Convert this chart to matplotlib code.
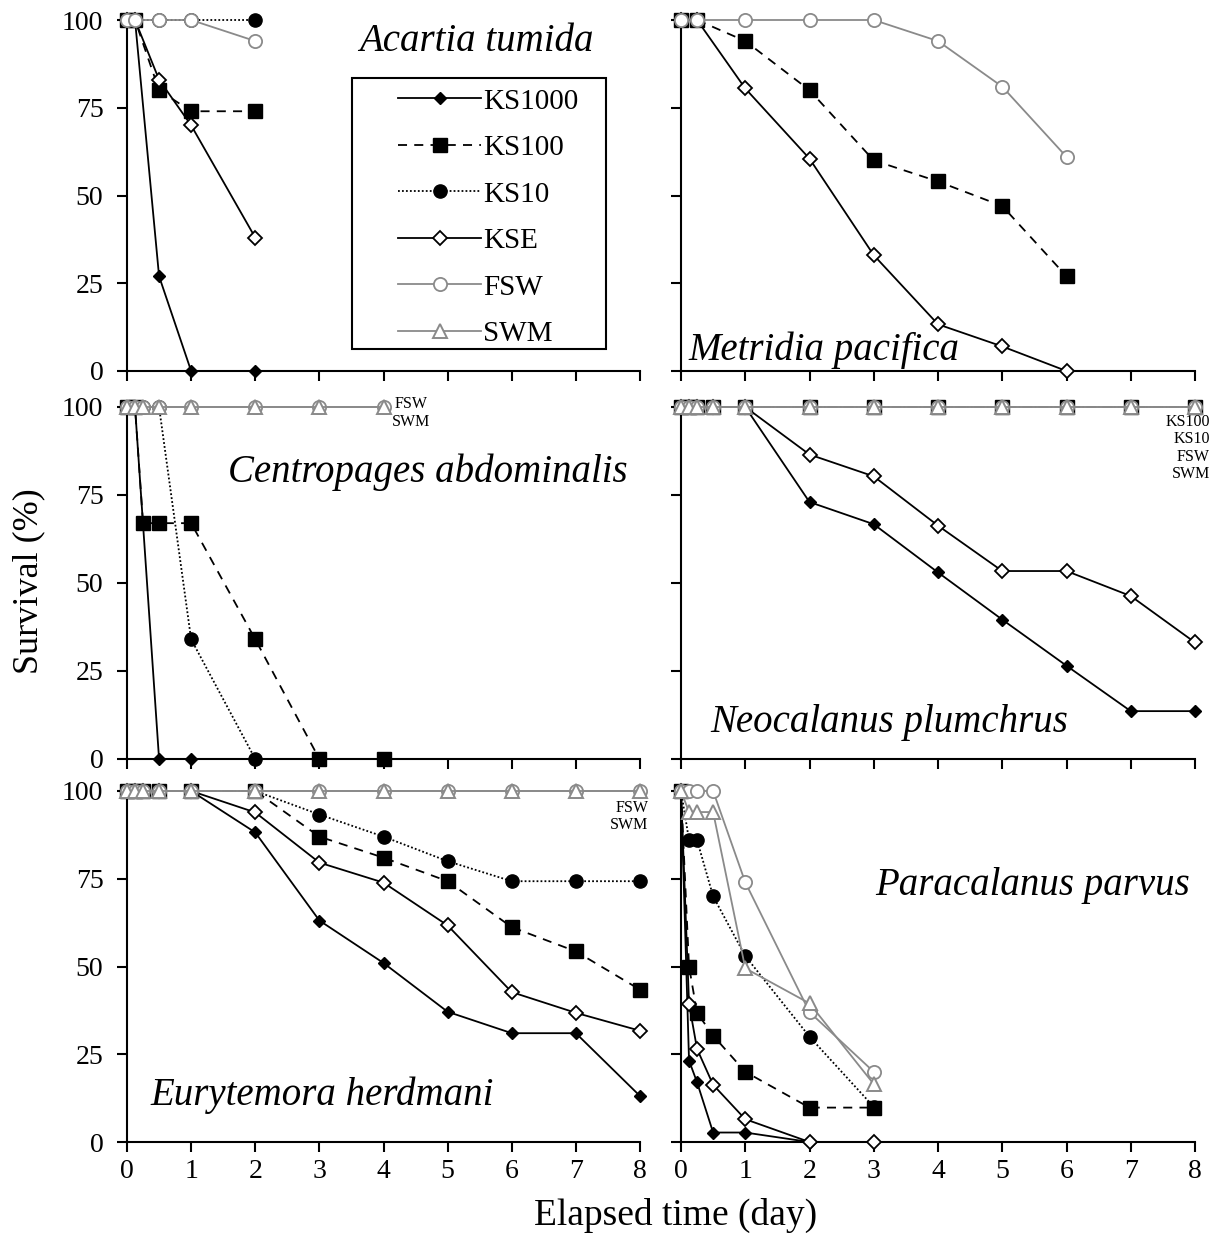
import numpy as np
import matplotlib
matplotlib.use("Agg")
import matplotlib.pyplot as plt
from matplotlib.lines import Line2D
from matplotlib.patches import Rectangle

nan = np.nan

# Acartia tumida
acartia_t = [0, 0.125, 0.5, 1, 2]
acartia_ks1000 = [100, 100, 27, 0, 0]
acartia_ks100 = [100, 100, 80, 74, 74]
acartia_ks10 = [100, 100, 100, 100, 100]
acartia_kse = [100, 100, 83, 70, 38]
acartia_fsw = [100, 100, 100, 100, 94]

# Metridia pacifica
metridia_t = [0, 0.25, 1, 2, 3, 4, 5, 6]
metridia_ks100 = [100, 100, 94, 80, 60, 54, 47, 27]
metridia_kse = [100, 100, 80.5, 60.5, 33, 13.3, 7, 0]
metridia_fsw = [100, 100, 100, 100, 100, 94, 81, 61]

# Centropages abdominalis
centro_t = [0, 0.125, 0.25, 0.5, 1, 2, 3, 4]
centro_ks1000 = [100, 100, nan, 0, 0, nan, nan, nan]
centro_ks100 = [100, 100, 67, 67, 67, 34, 0, 0]
centro_ks10 = [100, 100, 100, 100, 34, 0, nan, nan]
centro_fsw = [100, 100, 100, 100, 100, 100, 100, 100]
centro_swm = [100, 100, 100, 100, 100, 100, 100, 100]

# Neocalanus plumchrus
neo_t = [0, 0.125, 0.25, 0.5, 1, 2, 3, 4, 5, 6, 7, 8]
neo_ks1000 = [100, 100, 100, 100, 100, 73, 66.7, 53, 39.6, 26.5, 13.6, 13.6]
neo_ks100 = [100] * 12
neo_ks10 = [100] * 12
neo_kse = [100, 100, 100, 100, 100, 86.5, 80.3, 66.3, 53.4, 53.4, 46.3, 33.1]
neo_fsw = [100] * 12
neo_swm = [100] * 12

# Eurytemora herdmani
eury_t = [0, 0.125, 0.25, 0.5, 1, 2, 3, 4, 5, 6, 7, 8]
eury_ks1000 = [100, 100, 100, 100, 100, 88.2, 63.1, 51, 37.1, 31, 31, 13.1]
eury_ks100 = [100, 100, 100, 100, 100, 100, 87, 81, 74.3, 61.2, 54.3, 43.4]
eury_ks10 = [100, 100, 100, 100, 100, 100, 93.3, 87, 80, 74.3, 74.3, 74.3]
eury_kse = [100, 100, 100, 100, 100, 93.9, 79.6, 73.9, 61.7, 42.7, 36.8, 31.7]
eury_fsw = [100] * 12
eury_swm = [100] * 12

# Paracalanus parvus
para_t = [0, 0.125, 0.25, 0.5, 1, 2, 3]
para_ks1000 = [100, 23.2, 17, 2.7, 2.7, 0, nan]
para_ks100 = [100, 50, 36.8, 30.3, 20, 9.8, 9.8]
para_ks10 = [100, 86, 86, 70, 53, 30, 10]
para_kse = [100, 39.4, 26.5, 16.3, 6.5, 0, 0]
para_fsw = [100, 100, 100, 100, 74, 37, 20]
para_swm = [100, 94, 94, 94, 49.5, 39.5, 16.5]

treatments = ["KS1000", "KS100", "KS10", "KSE", "FSW", "SWM"]
gray = "#8a8a8a"
styles = {
    "KS1000": dict(color="black", ls="-", marker="D", ms=5.8, mfc="black", mec="black"),
    "KS100": dict(color="black", ls=(0, (5, 4)), marker="s", ms=9.5, mfc="black", mec="black"),
    "KS10": dict(color="black", ls=(0, (1, 1.2)), marker="o", ms=9.5, mfc="black", mec="black"),
    "KSE": dict(color="black", ls="-", marker="D", ms=7.6, mfc="white", mec="black", mew=1.3),
    "FSW": dict(color=gray, ls="-", marker="o", ms=9.5, mfc="white", mec=gray, mew=1.3),
    "SWM": dict(color=gray, ls="-", marker="^", ms=10.5, mfc="white", mec=gray, mew=1.4),
}

panels = [
    ("Acartia tumida", acartia_t,
     {"KS1000": acartia_ks1000, "KS100": acartia_ks100, "KS10": acartia_ks10,
      "KSE": acartia_kse, "FSW": acartia_fsw}),
    ("Metridia pacifica", metridia_t,
     {"KS100": metridia_ks100, "KSE": metridia_kse, "FSW": metridia_fsw}),
    ("Centropages abdominalis", centro_t,
     {"KS1000": centro_ks1000, "KS100": centro_ks100, "KS10": centro_ks10,
      "FSW": centro_fsw, "SWM": centro_swm}),
    ("Neocalanus plumchrus", neo_t,
     {"KS1000": neo_ks1000, "KS100": neo_ks100, "KS10": neo_ks10,
      "KSE": neo_kse, "FSW": neo_fsw, "SWM": neo_swm}),
    ("Eurytemora herdmani", eury_t,
     {"KS1000": eury_ks1000, "KS100": eury_ks100, "KS10": eury_ks10,
      "KSE": eury_kse, "FSW": eury_fsw, "SWM": eury_swm}),
    ("Paracalanus parvus", para_t,
     {"KS1000": para_ks1000, "KS100": para_ks100, "KS10": para_ks10,
      "KSE": para_kse, "FSW": para_fsw, "SWM": para_swm}),
]

# posicion de los titulos (coords de ejes) y alineacion
title_pos = [(0.91, 0.94, "right"), (0.014, 0.06, "left"), (0.197, 0.815, "left"),
             (0.056, 0.105, "left"), (0.045, 0.134, "left"), (0.377, 0.732, "left")]

plt.rcParams["font.family"] = ["Liberation Serif", "DejaVu Serif"]

W, H = 1213, 1239
fig = plt.figure(figsize=(W / 100, H / 100), dpi=100)

col_x = [127, 681]
col_w = [513, 514]
row_y = [(20, 371), (407, 759), (791, 1142)]

axes = []
for i, (name, t, series) in enumerate(panels):
    r, c = divmod(i, 2)
    top, bot = row_y[r]
    ax = fig.add_axes([col_x[c] / W, 1 - bot / H, col_w[c] / W, (bot - top) / H])
    axes.append(ax)
    t = np.array(t, dtype=float)
    for k in treatments:
        if k not in series:
            continue
        y = np.array(series[k], dtype=float)
        ok = ~np.isnan(y)
        ax.plot(t[ok], y[ok], lw=1.3, clip_on=False, zorder=3, **styles[k])
    ax.set_xlim(0, 8)
    ax.set_ylim(0, 100)
    ax.set_xticks(range(9))
    ax.set_yticks([0, 25, 50, 75, 100])
    for s in ["top", "right"]:
        ax.spines[s].set_visible(False)
    for s in ["left", "bottom"]:
        ax.spines[s].set_linewidth(1.5)
    ax.tick_params(direction="out", length=7, width=1.5, labelsize=20)
    ax.tick_params(axis="y", pad=10)
    ax.tick_params(axis="x", pad=5)
    if c == 1:
        ax.tick_params(labelleft=False)
    if r < 2:
        ax.tick_params(labelbottom=False)
    tx, ty, ha = title_pos[i]
    ax.text(tx, ty, name, transform=ax.transAxes, ha=ha, va="center",
            fontsize=28, style="italic")

# etiquetas pequenas de series superpuestas
axes[2].text(4.43, 103, "FSW\nSWM", ha="center", va="top", fontsize=11.5, linespacing=1.1)
axes[3].text(8.23, 98, "KS100\nKS10\nFSW\nSWM", ha="right", va="top", fontsize=11.5,
             linespacing=1.12, clip_on=False)
axes[4].text(8.13, 97.5, "FSW\nSWM", ha="right", va="top", fontsize=11.5,
             linespacing=1.1, clip_on=False)

# leyenda sin marco + rectangulo aparte (los margenes no son simetricos)
ax0 = axes[0]
ax0.add_patch(Rectangle((0.4386, 0.063), 0.4951, 0.773, transform=ax0.transAxes,
                        fill=True, facecolor="white", edgecolor="black", lw=1.5,
                        zorder=4, clip_on=False))
handles = [Line2D([], [], lw=1.3, **styles[k]) for k in treatments]
leg = ax0.legend(handles, treatments, loc="upper left", bbox_to_anchor=(0.528, 0.806),
                 borderaxespad=0, frameon=False, fontsize=21, handlelength=2.86,
                 handletextpad=0.05, labelspacing=0.69, borderpad=0)
leg.set_zorder(5)

fig.text(0.024, 0.531, "Survival (%)", rotation=90, ha="center", va="center", fontsize=26)
fig.text(0.557, 0.019, "Elapsed time (day)", ha="center", va="center", fontsize=27)

fig.savefig("out.png", dpi=100)
